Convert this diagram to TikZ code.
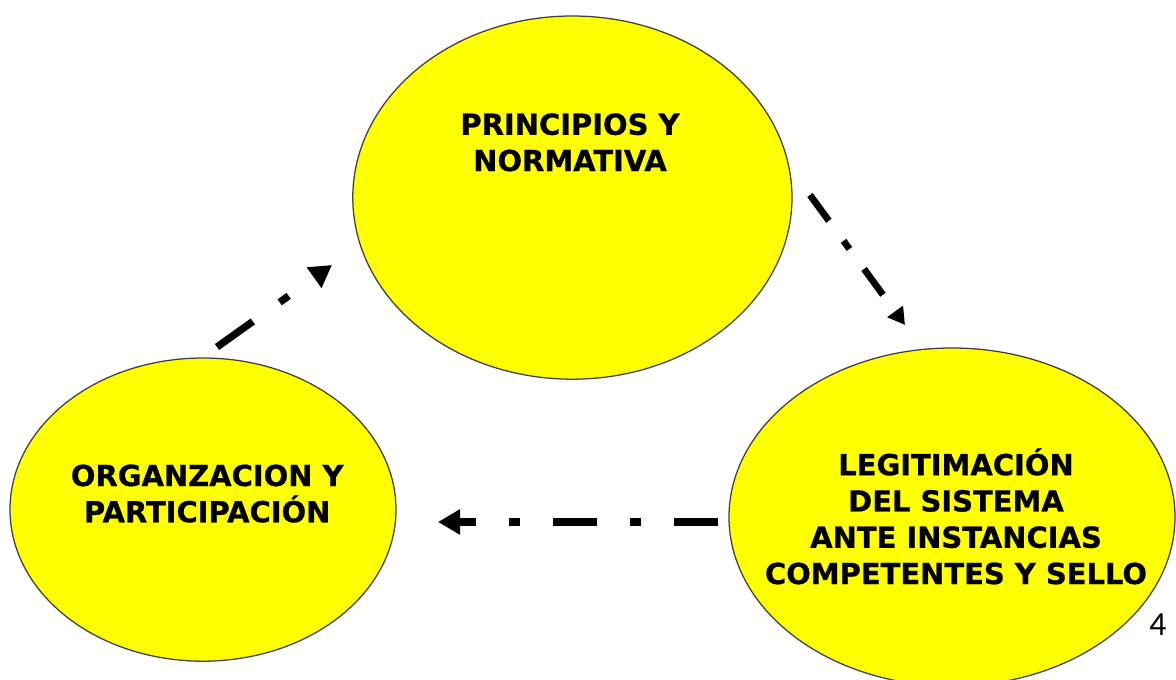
\documentclass[tikz,border=0pt]{standalone}
\usepackage{fontspec}
\setmainfont[BoldFeatures={FakeBold=0.8}]{DejaVu Sans}
\newfontfamily\numfont{Carlito}
\usetikzlibrary{shapes.geometric,arrows.meta}

\definecolor{amarillo}{HTML}{FFFF00}

\begin{document}
\begin{tikzpicture}[
        elipse/.style={
            ellipse,
            draw=black!75,
            line width=0.9pt,
            fill=amarillo,
            inner sep=0pt},
        rotulo/.style={
            align=center,
            font=\bfseries\fontsize{20.6}{25.8}\selectfont},
        flecha/.style={
            line width=5.2pt,
            -{Triangle[length=5.5mm,width=6mm]},
            dash pattern=on 1.1cm off 0.825cm on 0.275cm off 0.825cm},
        flechachica/.style={
            line width=4.8pt,
            -{Triangle[length=4.2mm,width=4.6mm]},
            dash pattern=on 0.8cm off 0.62cm on 0.25cm off 0.62cm}
        ]

        \useasboundingbox (0,0) rectangle (29.4,17);

        % elipses
        \node[elipse, minimum width=10.98cm, minimum height=9.08cm] (principios) at (14.31,12.06) {};
        \node[elipse, minimum width=9.65cm, minimum height=7.58cm] (organizacion) at (5.075,4.26) {};
        \node[elipse, minimum width=11.15cm, minimum height=8.45cm] (legitimacion) at (23.8,4.075) {};

        % textos
        \node[rotulo] (tprincipios) at (14.25,13.44) {PRINCIPIOS Y\\NORMATIVA};
        \node[rotulo] (torganizacion) at (5.18,4.66) {ORGANZACION Y\\PARTICIPACIÓN};
        \node[rotulo] (tlegitimacion) at (23.9,4.09) {LEGITIMACIÓN\\DEL SISTEMA\\ANTE INSTANCIAS\\COMPETENTES Y SELLO};

        \node[font=\numfont\fontsize{24}{28}\selectfont] (pagina) at (28.95,1.375) {4};

        % extremos de las flechas
        \coordinate (f1a) at (5.425,8.325);
        \coordinate (f1b) at (8.3,10.375);
        \coordinate (f2a) at (20.25,12.125);
        \coordinate (f2b) at (22.625,8.875);
        \coordinate (f3a) at (17.95,3.95);
        \coordinate (f3b) at (10.95,3.95);

        \draw[flecha] (f1a) -- (f1b);
        \draw[flechachica] (f2a) -- (f2b);
        \draw[flecha] (f3a) -- (f3b);

    \end{tikzpicture}
\end{document}
